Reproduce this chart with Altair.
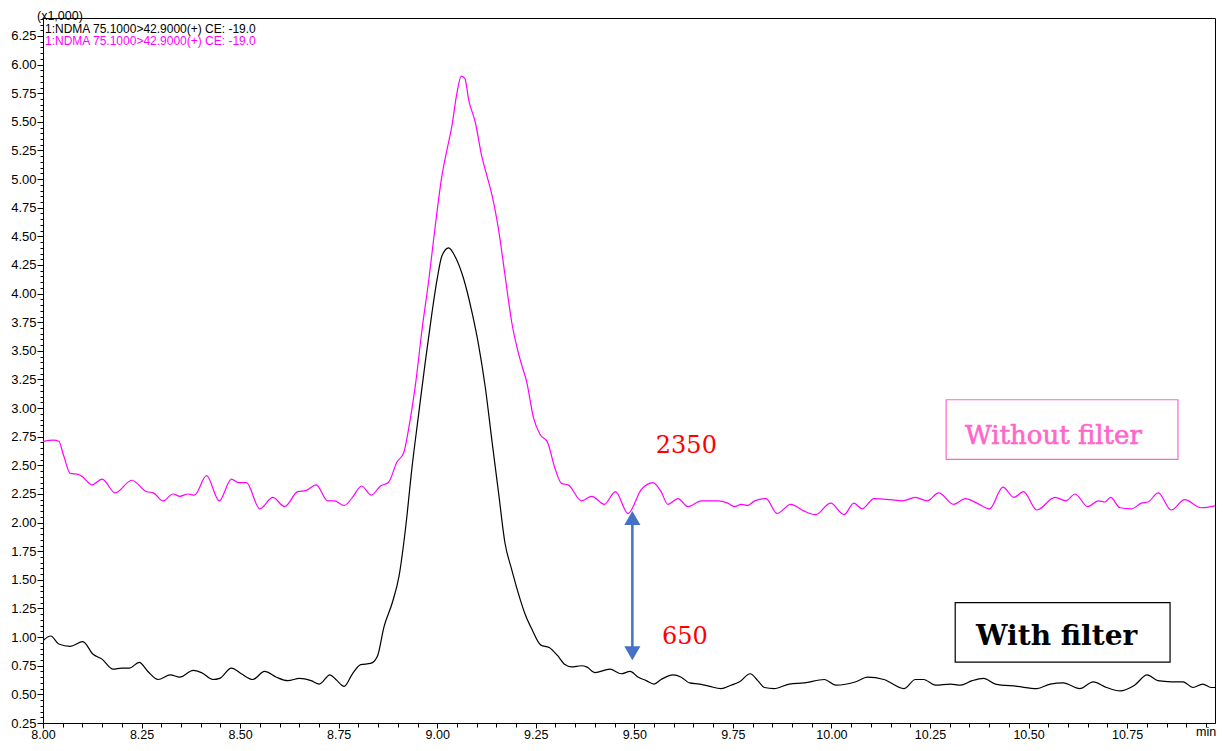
import altair as alt
import pandas as pd

# ---- data (time in min, intensity x1,000) ----
without_t = [8.000, 8.027, 8.040, 8.052, 8.069, 8.090, 8.100, 8.124, 8.150, 8.183,
             8.225, 8.263, 8.280, 8.305, 8.330, 8.347, 8.368, 8.384, 8.415, 8.447,
             8.478, 8.495, 8.516, 8.550, 8.583, 8.613, 8.646, 8.667, 8.693, 8.722,
             8.739, 8.764, 8.785, 8.808, 8.833, 8.856, 8.876, 8.898, 8.915, 8.928,
             8.945, 8.962, 8.979, 8.995, 9.012, 9.025, 9.037, 9.050, 9.061, 9.070,
             9.080, 9.097, 9.113, 9.126, 9.139, 9.156, 9.172, 9.189, 9.206, 9.214,
             9.227, 9.244, 9.261, 9.280, 9.299, 9.316, 9.332, 9.366, 9.392, 9.424,
             9.452, 9.484, 9.518, 9.547, 9.568, 9.585, 9.611, 9.636, 9.670, 9.712,
             9.737, 9.754, 9.771, 9.788, 9.805, 9.834, 9.862, 9.897, 9.931, 9.960,
             9.998, 10.032, 10.057, 10.078, 10.108, 10.150, 10.180, 10.213, 10.243, 10.272,
             10.310, 10.340, 10.369, 10.401, 10.435, 10.463, 10.487, 10.521, 10.567, 10.595,
             10.618, 10.650, 10.677, 10.694, 10.708, 10.732, 10.761, 10.786, 10.803, 10.829,
             10.862, 10.896, 10.938, 10.990]
without_v = [2.71, 2.72, 2.71, 2.59, 2.43, 2.42, 2.40, 2.33, 2.38, 2.26,
             2.37, 2.27, 2.26, 2.19, 2.25, 2.23, 2.25, 2.24, 2.41, 2.19,
             2.38, 2.35, 2.35, 2.12, 2.22, 2.14, 2.27, 2.28, 2.33, 2.19,
             2.19, 2.15, 2.22, 2.32, 2.24, 2.32, 2.35, 2.53, 2.61, 2.83,
             3.21, 3.70, 4.13, 4.59, 5.03, 5.26, 5.46, 5.75, 5.90, 5.88,
             5.69, 5.49, 5.20, 5.03, 4.86, 4.55, 4.16, 3.75, 3.48, 3.38,
             3.23, 2.92, 2.77, 2.70, 2.47, 2.34, 2.33, 2.19, 2.23, 2.16,
             2.27, 2.08, 2.29, 2.35, 2.27, 2.16, 2.21, 2.14, 2.19, 2.19,
             2.17, 2.14, 2.16, 2.15, 2.19, 2.21, 2.08, 2.16, 2.10, 2.07,
             2.17, 2.07, 2.17, 2.12, 2.21, 2.20, 2.19, 2.22, 2.19, 2.26,
             2.16, 2.21, 2.17, 2.12, 2.31, 2.22, 2.27, 2.11, 2.22, 2.19,
             2.25, 2.14, 2.19, 2.18, 2.22, 2.13, 2.12, 2.17, 2.18, 2.26,
             2.11, 2.20, 2.13, 2.16]

with_t = [8.000, 8.020, 8.040, 8.069, 8.101, 8.127, 8.149, 8.178, 8.199, 8.220,
          8.244, 8.266, 8.292, 8.323, 8.347, 8.381, 8.402, 8.431, 8.448, 8.478,
          8.503, 8.532, 8.562, 8.592, 8.621, 8.651, 8.680, 8.701, 8.728, 8.743,
          8.764, 8.785, 8.806, 8.831, 8.848, 8.865, 8.886, 8.903, 8.920, 8.936,
          8.953, 8.970, 8.987, 9.000, 9.012, 9.029, 9.046, 9.067, 9.088, 9.105,
          9.122, 9.139, 9.156, 9.172, 9.189, 9.206, 9.223, 9.240, 9.263, 9.284,
          9.305, 9.324, 9.340, 9.366, 9.379, 9.400, 9.438, 9.467, 9.489, 9.510,
          9.530, 9.550, 9.568, 9.598, 9.619, 9.640, 9.666, 9.691, 9.720, 9.745,
          9.767, 9.794, 9.813, 9.830, 9.855, 9.893, 9.931, 9.982, 10.011, 10.062,
          10.091, 10.133, 10.184, 10.213, 10.234, 10.264, 10.302, 10.327, 10.357, 10.386,
          10.416, 10.471, 10.521, 10.555, 10.588, 10.630, 10.664, 10.698, 10.732, 10.769,
          10.801, 10.828, 10.862, 10.892, 10.917, 10.942, 10.963, 10.990]
with_v = [0.97, 1.01, 0.94, 0.92, 0.96, 0.85, 0.81, 0.72, 0.73, 0.73,
          0.78, 0.70, 0.63, 0.67, 0.65, 0.71, 0.69, 0.63, 0.64, 0.73,
          0.68, 0.63, 0.70, 0.65, 0.62, 0.64, 0.62, 0.59, 0.67, 0.63,
          0.57, 0.68, 0.76, 0.77, 0.83, 1.09, 1.30, 1.53, 1.96, 2.48,
          2.95, 3.41, 3.84, 4.13, 4.33, 4.40, 4.32, 4.13, 3.84, 3.55,
          3.18, 2.71, 2.25, 1.82, 1.59, 1.38, 1.20, 1.07, 0.93, 0.91,
          0.84, 0.76, 0.74, 0.75, 0.74, 0.69, 0.72, 0.68, 0.70, 0.65,
          0.62, 0.59, 0.63, 0.67, 0.65, 0.60, 0.59, 0.57, 0.55, 0.58,
          0.61, 0.68, 0.62, 0.56, 0.55, 0.59, 0.60, 0.63, 0.58, 0.61,
          0.65, 0.63, 0.55, 0.63, 0.63, 0.58, 0.59, 0.58, 0.62, 0.64,
          0.59, 0.57, 0.55, 0.59, 0.60, 0.55, 0.61, 0.56, 0.53, 0.58,
          0.67, 0.62, 0.61, 0.61, 0.56, 0.59, 0.56, 0.56]

series_names = ["Without filter", "With filter"]
series_colors = ["#FF00FF", "#000000"]

x_major = [8.00, 8.25, 8.50, 8.75, 9.00, 9.25, 9.50, 9.75, 10.00, 10.25, 10.50, 10.75]
y_major = [0.25, 0.50, 0.75, 1.00, 1.25, 1.50, 1.75, 2.00, 2.25, 2.50, 2.75, 3.00,
           3.25, 3.50, 3.75, 4.00, 4.25, 4.50, 4.75, 5.00, 5.25, 5.50, 5.75, 6.00, 6.25]
x_minor = [round(8.0 + 0.05 * i, 2) for i in range(60)]
y_minor = [round(0.25 + 0.05 * i, 2) for i in range(124)]

header_labels = ["1:NDMA 75.1000>42.9000(+) CE: -19.0", "1:NDMA 75.1000>42.9000(+) CE: -19.0"]
header_colors = ["#000000", "#FF00FF"]

ann_labels = ["2350", "650"]
ann_t = [9.632, 9.628]
ann_v = [2.665, 1.00]

legend_labels = ["Without filter", "With filter"]
legend_t = [10.339, 10.367]
legend_v = [2.76, 1.00]
legend_colors = ["#FF66CC", "#000000"]
box_t1 = [10.291, 10.314]
box_t2 = [10.879, 10.859]
box_v1 = [3.073, 1.302]
box_v2 = [2.552, 0.781]

arrow_t = 9.495
arrow_top = 2.04
arrow_bottom = 0.86

# ---- tables ----
df_lines = pd.concat([
    pd.DataFrame({"t": without_t, "v": without_v, "series": series_names[0]}),
    pd.DataFrame({"t": with_t, "v": with_v, "series": series_names[1]}),
])
df_ann = pd.DataFrame({"t": ann_t, "v": ann_v, "label": ann_labels})
df_leg0 = pd.DataFrame({"t": legend_t[:1], "v": legend_v[:1], "label": legend_labels[:1],
                        "color": legend_colors[:1]})
df_leg1 = pd.DataFrame({"t": legend_t[1:], "v": legend_v[1:], "label": legend_labels[1:],
                        "color": legend_colors[1:]})
df_box = pd.DataFrame({"t1": box_t1, "t2": box_t2, "v1": box_v1, "v2": box_v2,
                       "color": legend_colors})
df_arrow = pd.DataFrame({"t": [arrow_t], "top": [arrow_top], "bottom": [arrow_bottom]})
df_head = pd.DataFrame({"t": [arrow_t, arrow_t], "v": [arrow_top, arrow_bottom],
                        "shape": ["triangle-up", "triangle-down"]})
df_hdr = pd.DataFrame({"label": header_labels, "color": header_colors, "py": [11, 23]})
df_unit = pd.DataFrame({"label": ["(x1,000)"], "px": [-6], "py": [-2]})
df_min = pd.DataFrame({"label": ["min"], "px": [1153], "py": [714]})

xs = alt.Scale(domain=[8.0, 10.973], nice=False, zero=False)
ys = alt.Scale(domain=[0.25, 6.407], nice=False, zero=False)
FONT = "Liberation Sans"
SERIF = "DejaVu Serif"

lines = alt.Chart(df_lines).mark_line(strokeWidth=1.2, interpolate="monotone", clip=True).encode(
    x=alt.X("t:Q", scale=xs, axis=alt.Axis(values=x_major, format=".2f", tickSize=5,
                                           labelPadding=0, grid=False, title=None,
                                           orient="bottom", labelFlush=False,
                                           labelFontSize=12.5)),
    y=alt.Y("v:Q", scale=ys, axis=alt.Axis(values=y_major, format=".2f", tickSize=6,
                                           labelPadding=1, grid=False, title=None,
                                           orient="left", labelFlush=False)),
    color=alt.Color("series:N", scale=alt.Scale(domain=series_names, range=series_colors),
                    legend=None),
    detail="series:N",
)

minor = alt.Chart(df_lines).mark_point(opacity=0, clip=True).encode(
    x=alt.X("t:Q", scale=xs, axis=alt.Axis(values=x_minor, labels=False, tickSize=4,
                                           domain=False, grid=False, title=None,
                                           orient="bottom")),
    y=alt.Y("v:Q", scale=ys, axis=alt.Axis(values=y_minor, labels=False, tickSize=3,
                                           domain=False, grid=False, title=None,
                                           orient="left")),
)

boxes = alt.Chart(df_box).mark_rect(fillOpacity=0, strokeWidth=1.2).encode(
    x=alt.X("t1:Q", scale=xs, axis=None), x2="t2:Q",
    y=alt.Y("v1:Q", scale=ys, axis=None), y2="v2:Q",
    stroke=alt.Color("color:N", scale=None),
)

leg_normal = alt.Chart(df_leg0).mark_text(
    font=SERIF, fontSize=26, align="left", baseline="middle",
    stroke="#FF66CC", strokeWidth=0.6).encode(
    x=alt.X("t:Q", scale=xs, axis=None), y=alt.Y("v:Q", scale=ys, axis=None),
    text="label:N", color=alt.Color("color:N", scale=None))
leg_bold = alt.Chart(df_leg1).mark_text(
    font=SERIF, fontSize=28, fontWeight="bold", align="left", baseline="middle").encode(
    x=alt.X("t:Q", scale=xs, axis=None), y=alt.Y("v:Q", scale=ys, axis=None),
    text="label:N", color=alt.Color("color:N", scale=None))

ann = alt.Chart(df_ann).mark_text(font=SERIF, fontSize=24, color="#FF0000",
                                  align="center", baseline="middle").encode(
    x=alt.X("t:Q", scale=xs, axis=None), y=alt.Y("v:Q", scale=ys, axis=None),
    text="label:N")

shaft = alt.Chart(df_arrow).mark_rule(color="#4472C4", strokeWidth=2.5).encode(
    x=alt.X("t:Q", scale=xs, axis=None),
    y=alt.Y("top:Q", scale=ys, axis=None), y2="bottom:Q")
heads = alt.Chart(df_head).mark_point(filled=True, color="#4472C4", opacity=1, size=260).encode(
    x=alt.X("t:Q", scale=xs, axis=None), y=alt.Y("v:Q", scale=ys, axis=None),
    shape=alt.Shape("shape:N", scale=None))

hdr = alt.Chart(df_hdr).mark_text(font=FONT, fontSize=12, align="left", baseline="middle").encode(
    x=alt.value(2),
    y=alt.Y("py:Q", scale=None, axis=None),
    text="label:N", color=alt.Color("color:N", scale=None))

unit = alt.Chart(df_unit).mark_text(
    font=FONT, fontSize=12.5, align="left", baseline="middle", color="#000000").encode(
    x=alt.X("px:Q", scale=None, axis=None), y=alt.Y("py:Q", scale=None, axis=None),
    text="label:N")

min_label = alt.Chart(df_min).mark_text(
    font=FONT, fontSize=12.5, align="left", baseline="middle", color="#000000").encode(
    x=alt.X("px:Q", scale=None, axis=None), y=alt.Y("py:Q", scale=None, axis=None),
    text="label:N")

chart = alt.layer(lines, minor, boxes, leg_normal, leg_bold, ann, shaft, heads, hdr, unit,
                  min_label).resolve_axis(
    x="independent", y="independent"
).properties(
    width=1172, height=705,
    autosize=alt.AutoSizeParams(type="none"),
    padding={"left": 35, "top": 10, "right": 3, "bottom": 18},
).configure_view(stroke="#000000", strokeWidth=1).configure_axis(
    labelFont=FONT, labelFontSize=13, labelColor="#000000",
    domainColor="#000000", tickColor="#000000", domainWidth=1, tickWidth=1,
)

chart.save("out.html", embed_options={"renderer": "svg", "actions": False})
